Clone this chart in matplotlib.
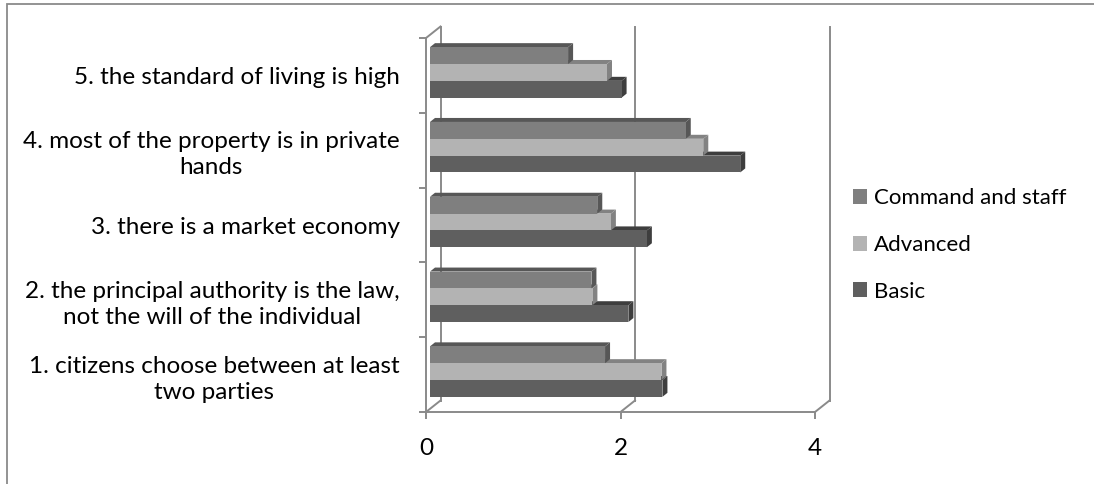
import matplotlib
matplotlib.use("Agg")
import matplotlib.pyplot as plt
from matplotlib.patches import Polygon, Rectangle, Patch
from matplotlib.lines import Line2D
from matplotlib.transforms import ScaledTranslation, IdentityTransform

plt.rcParams['font.family'] = ['Lato', 'DejaVu Sans']

# data
categories = ["1. citizens choose between at least\ntwo parties",
              "2. the principal authority is the law,\nnot the will of the individual",
              "3. there is a market economy",
              "4. most of the property is in private\nhands",
              "5. the standard of living is high"]
series = ["Command and staff", "Advanced", "Basic"]
command = [1.80, 1.66, 1.72, 2.63, 1.42]
advanced = [2.38, 1.67, 1.86, 2.81, 1.82]
basic = [2.39, 2.04, 2.23, 3.19, 1.97]
x_ticks = [0, 2, 4]

front_cols = {"Command and staff": "#7f7f7f", "Advanced": "#b3b3b3", "Basic": "#5f5f5f"}
shade_cols = {"Command and staff": "#575757", "Advanced": "#828282", "Basic": "#3e3e3e"}
values = {"Command and staff": command, "Advanced": advanced, "Basic": basic}
offsets = {"Command and staff": 0.225, "Advanced": 0.0, "Basic": -0.225}
bar_h = 0.225

line_c = "#8a8a8a"
fs = 17.5

W, H = 1094, 484
fig = plt.figure(figsize=(W / 100, H / 100), dpi=100)
ax = fig.add_axes([426 / W, (H - 412) / H, 389 / W, 374 / H])
ax.set_xlim(0, 4)
ax.set_ylim(-0.5, 4.5)
ax.patch.set_visible(False)

def shift(dx, dy):
    return ax.transData + ScaledTranslation(dx / 100, dy / 100, fig.dpi_scale_trans)

# outer chart border
fig.add_artist(Rectangle((7 / W, -0.1), 1.2, 1.1 - 4 / H, transform=fig.transFigure,
                         fill=False, edgecolor=line_c, lw=1.3))

# back wall gridlines and floor / wall diagonals
D = (14.5, 11.5)
back = shift(*D)
for xv in x_ticks:
    ax.plot([xv, xv], [-0.5, 4.5], transform=back, color=line_c, lw=1.4,
            clip_on=False, zorder=1)
for xv, yv in [(0, -0.5), (2, -0.5), (4, -0.5), (0, 4.5)]:
    px, py = ax.transData.transform((xv, yv))
    ax.add_line(Line2D([px, px + D[0]], [py, py + D[1]], transform=IdentityTransform(),
                       color=line_c, lw=1.4, clip_on=False, zorder=1))

# 3d bars: lower bar first so the upper front face covers its top face
fd = (4, 3)   # front face offset
bd = (5, 4)   # bar depth
z = 3
for i in range(len(categories)):
    for s in ["Basic", "Advanced", "Command and staff"]:
        v = values[s][i]
        y = i + offsets[s]
        ax.barh(y, v, height=bar_h, color=front_cols[s], transform=shift(*fd),
                zorder=z + 1, clip_on=False)
        x0, y0 = ax.transData.transform((0, y - bar_h / 2))
        x1, y1 = ax.transData.transform((v, y + bar_h / 2))
        x0 += fd[0]; x1 += fd[0]; y0 += fd[1]; y1 += fd[1]
        top = [(x0, y1), (x1, y1), (x1 + bd[0], y1 + bd[1]), (x0 + bd[0], y1 + bd[1])]
        side = [(x1, y0), (x1 + bd[0], y0 + bd[1]), (x1 + bd[0], y1 + bd[1]), (x1, y1)]
        for poly in (top, side):
            ax.add_patch(Polygon(poly, closed=True, facecolor=shade_cols[s], edgecolor="none",
                                 transform=IdentityTransform(), clip_on=False, zorder=z))
        z += 2

# front axes
for sp in ["top", "right"]:
    ax.spines[sp].set_visible(False)
for sp in ["left", "bottom"]:
    ax.spines[sp].set_color(line_c)
    ax.spines[sp].set_linewidth(1.4)
    ax.spines[sp].set_zorder(2)

ax.set_xticks(x_ticks)
ax.set_xticklabels([str(t) for t in x_ticks], fontsize=fs)
ax.tick_params(axis="x", length=5, width=1.4, color=line_c, pad=14)

ax.set_yticks(range(len(categories)))
ax.set_yticklabels(categories, fontsize=fs)
for lbl in ax.get_yticklabels():
    lbl.set_multialignment("center")
    lbl.set_linespacing(1.3)
ax.tick_params(axis="y", which="major", length=0, pad=19)
ax.set_yticks([k - 0.5 for k in range(len(categories) + 1)], minor=True)
ax.tick_params(axis="y", which="minor", length=5, width=1.4, color=line_c)

# legend
handles = [Patch(facecolor=front_cols[s], edgecolor="none") for s in series]
fig.legend(handles, series, loc="center left", bbox_to_anchor=(833 / W, 1 - 245 / H),
           frameon=False, fontsize=16, handlelength=0.65, handleheight=0.65,
           handletextpad=0.3, labelspacing=1.2)

fig.savefig("out.png", dpi=100)
